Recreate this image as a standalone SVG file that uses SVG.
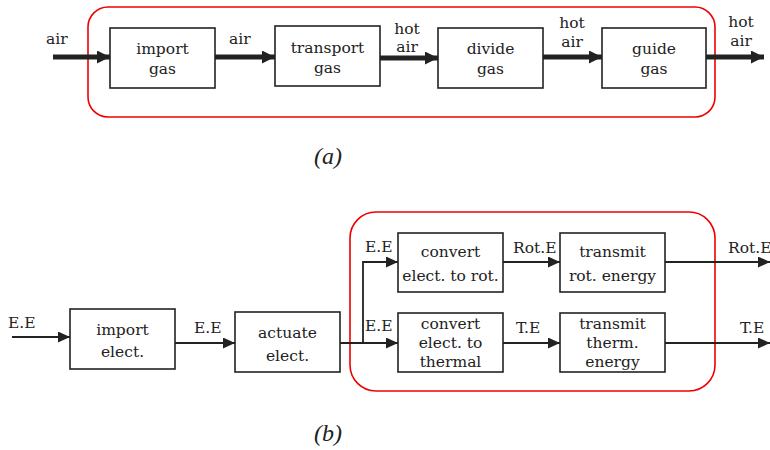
<svg xmlns="http://www.w3.org/2000/svg" width="770" height="450" viewBox="0 0 770 450">
<defs>
<marker id="ah" markerWidth="14" markerHeight="14" refX="13" refY="6.5" orient="auto" markerUnits="userSpaceOnUse"><path d="M0,0 L13,6.5 L0,13 Z" fill="#222"/></marker>
<marker id="ah2" markerWidth="14" markerHeight="12" refX="12" refY="5.5" orient="auto" markerUnits="userSpaceOnUse"><path d="M0,0 L12,5.5 L0,11 Z" fill="#222"/></marker>
</defs>
<style>
.box{fill:#fff;stroke:#222;stroke-width:1.6}
.grp{fill:none;stroke:#e00;stroke-width:1.6}
text{font-family:"DejaVu Serif","Liberation Serif",serif;font-size:15.5px;fill:#222;text-anchor:middle}
.lbl{text-anchor:start}
.cap{font-family:"Liberation Serif",serif;font-style:italic;font-size:24px}
.thick{stroke:#222;stroke-width:5;fill:none;marker-end:url(#ah)}
.thin{stroke:#222;stroke-width:1.8;fill:none}
.thinA{stroke:#222;stroke-width:1.8;fill:none;marker-end:url(#ah2)}
</style>
<rect class="grp" x="88" y="7" width="627" height="110" rx="20"/>
<rect class="grp" x="350" y="212" width="365" height="179" rx="26"/>
<g id="connectors">
<path class="thick" d="M53,57 H110"/>
<path class="thick" d="M215,57 H275"/>
<path class="thick" d="M380,58 H438"/>
<path class="thick" d="M543,57 H602"/>
<path class="thick" d="M706,57 H764"/>
<path class="thinA" d="M12,337 H70"/>
<path class="thinA" d="M175,343 H235"/>
<path class="thinA" d="M340,343 H398"/>
<path class="thinA" d="M363,343 V262 H398"/>
<path class="thinA" d="M503,262 H560"/>
<path class="thinA" d="M503,343 H560"/>
<path class="thinA" d="M665,262 H770"/>
<path class="thinA" d="M665,343 H770"/>
<text class="lbl" x="46" y="44">air</text>
<text class="lbl" x="229" y="44">air</text>
<text x="407" y="34">hot</text><text x="407" y="52">air</text>
<text x="572" y="28">hot</text><text x="572" y="47">air</text>
<text x="741" y="27">hot</text><text x="741" y="46">air</text>
<text class="lbl" x="8" y="328">E.E</text>
<text class="lbl" x="194" y="333">E.E</text>
<text class="lbl" x="365" y="252">E.E</text>
<text class="lbl" x="365" y="331">E.E</text>
<text class="lbl" x="513" y="253">Rot.E</text>
<text class="lbl" x="516" y="333">T.E</text>
<text class="lbl" x="728" y="253">Rot.E</text>
<text class="lbl" x="740" y="333">T.E</text>
</g>
<g id="n1"><rect class="box" x="110" y="28" width="105" height="60"/><text x="162.5" y="54">import</text><text x="162.5" y="74">gas</text></g>
<g id="n2"><rect class="box" x="275" y="26" width="105" height="60"/><text x="327.5" y="53">transport</text><text x="327.5" y="73">gas</text></g>
<g id="n3"><rect class="box" x="438" y="28" width="105" height="60"/><text x="490.5" y="54">divide</text><text x="490.5" y="74">gas</text></g>
<g id="n4"><rect class="box" x="602" y="28" width="104" height="60"/><text x="654" y="54">guide</text><text x="654" y="74">gas</text></g>
<g id="m1"><rect class="box" x="70" y="309" width="105" height="60"/><text x="122.5" y="335">import</text><text x="122.5" y="357">elect.</text></g>
<g id="m2"><rect class="box" x="235" y="312" width="105" height="60"/><text x="287.5" y="338">actuate</text><text x="287.5" y="361">elect.</text></g>
<g id="m3"><rect class="box" x="398" y="233" width="105" height="59"/><text x="450.5" y="257">convert</text><text x="450.5" y="281">elect. to rot.</text></g>
<g id="m4"><rect class="box" x="560" y="233" width="105" height="59"/><text x="612.5" y="257">transmit</text><text x="612.5" y="281">rot. energy</text></g>
<g id="m5"><rect class="box" x="398" y="313" width="105" height="59"/><text x="450.5" y="329">convert</text><text x="450.5" y="348">elect. to</text><text x="450.5" y="367">thermal</text></g>
<g id="m6"><rect class="box" x="560" y="313" width="105" height="59"/><text x="612.5" y="329">transmit</text><text x="612.5" y="348">therm.</text><text x="612.5" y="367">energy</text></g>
<text class="cap" x="328" y="164">(a)</text>
<text class="cap" x="328" y="441">(b)</text>
</svg>
